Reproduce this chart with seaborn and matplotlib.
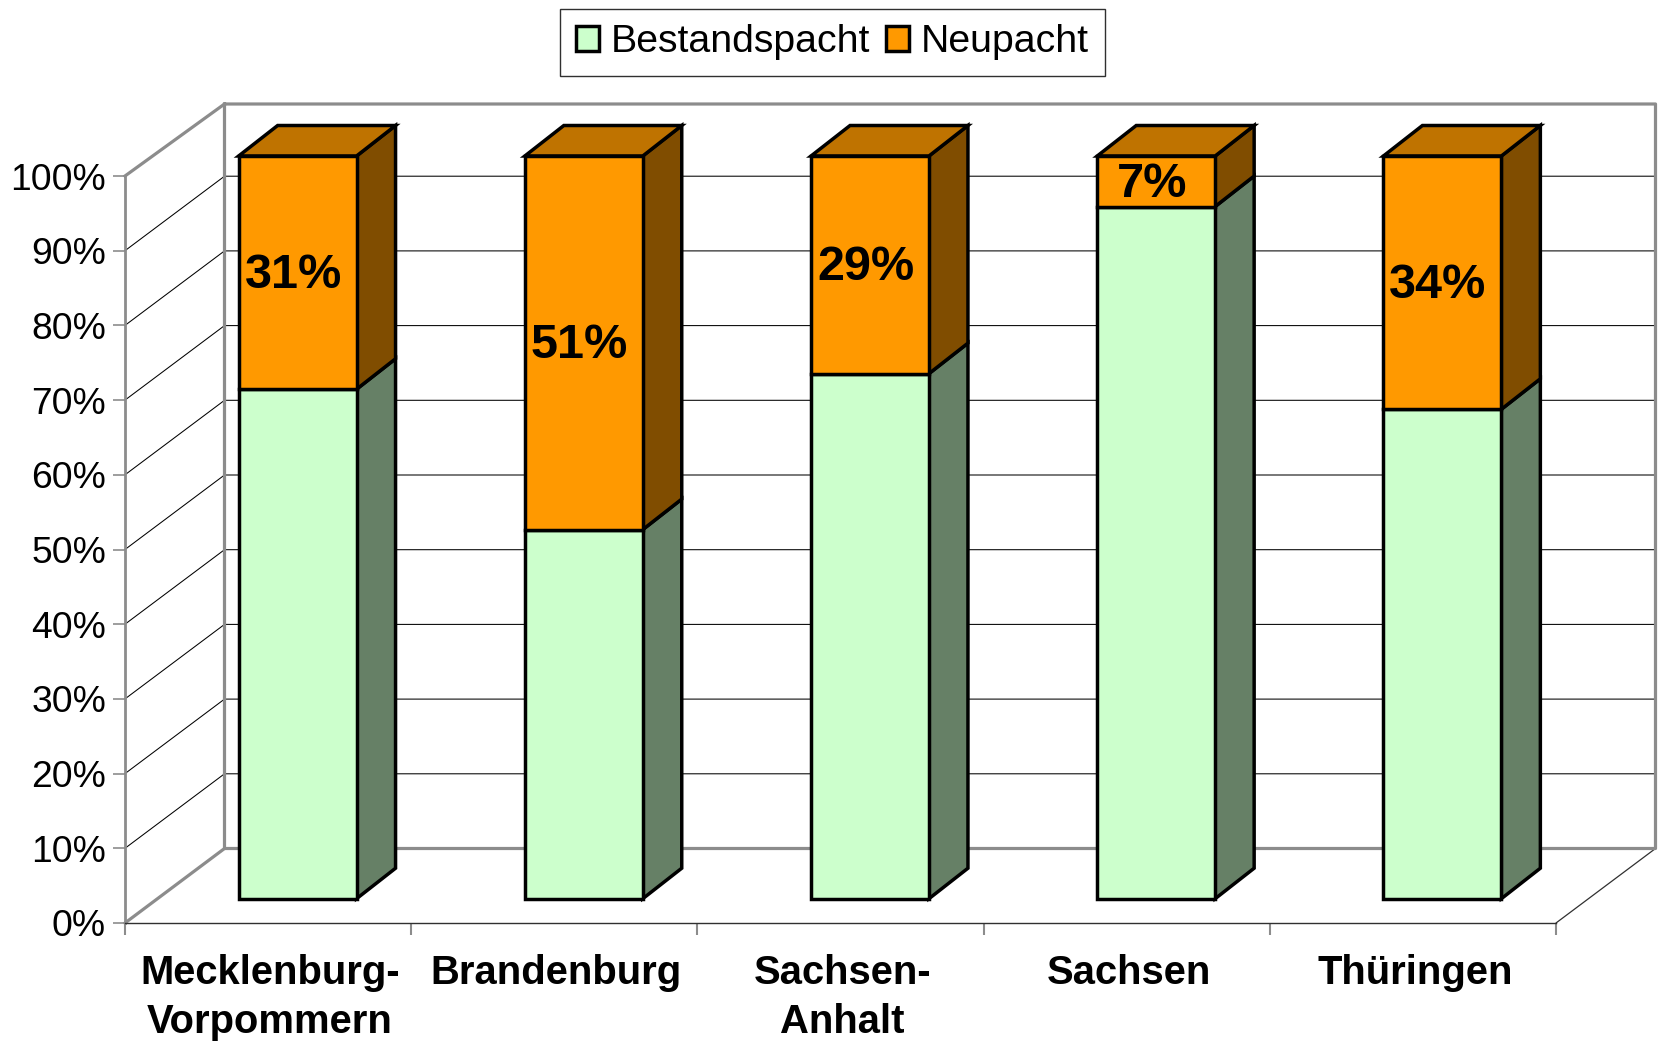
import matplotlib
matplotlib.use("Agg")
import matplotlib.pyplot as plt
from matplotlib.patches import Polygon
from matplotlib.transforms import ScaledTranslation
import seaborn as sns

states = ["Mecklenburg-\nVorpommern", "Brandenburg", "Sachsen-\nAnhalt", "Sachsen", "Thüringen"]
bestandspacht = [68.6, 49.7, 70.7, 93.2, 65.9]
neupacht = [31.4, 50.3, 29.3, 6.8, 34.1]
neupacht_labels = ["31%", "51%", "29%", "7%", "34%"]
y_ticks = [0, 10, 20, 30, 40, 50, 60, 70, 80, 90, 100]

GREEN, ORANGE = "#CCFFCC", "#FF9900"
GREEN_SIDE, ORANGE_SIDE, ORANGE_TOP = "#668066", "#804D00", "#BF7300"
GRAY = "#8C8C8C"

sns.set_theme(style="white")
plt.rcParams["font.family"] = ["Liberation Sans", "DejaVu Sans"]

W, H = 1659, 1042
fig = plt.figure(figsize=(W / 100, H / 100), dpi=100, facecolor="white")


def px_axes(x0, x1, ytop, ybot, **kw):
    return fig.add_axes([x0 / W, 1 - ybot / H, (x1 - x0) / W, (ybot - ytop) / H], **kw)


# front plane axes: frame, ticks, walls
ax = px_axes(125, 1556, 176, 923)
ax.set_xlim(-0.5, 4.5)
ax.set_ylim(0, 100)
ax.set_facecolor("none")
for s in ("top", "right"):
    ax.spines[s].set_visible(False)
ax.spines["left"].set_color(GRAY)
ax.spines["left"].set_linewidth(2)
ax.spines["bottom"].set_color("#303030")
ax.spines["bottom"].set_linewidth(1)

cat_px = (1556 - 125) / 5
pct_px = (923 - 176) / 100
wall_dx = 99.5 / cat_px
wall_dy = 74.5 / pct_px
wall_top = 100 + wall_dy - 2.5 / pct_px
x_l, x_r = -0.5, 4.5

wall = dict(color=GRAY, lw=2.3, clip_on=False, solid_capstyle="projecting", zorder=2)
thin = dict(color="black", lw=0.75, clip_on=False, zorder=1)
for t in y_ticks[1:-1]:
    ax.plot([x_l, x_l + wall_dx, x_r + wall_dx], [t, t + wall_dy, t + wall_dy], **thin)
ax.plot([x_l, x_l + wall_dx, x_r + wall_dx, x_r + wall_dx, x_l + wall_dx, x_l + wall_dx],
        [100, wall_top, wall_top, wall_dy, wall_dy, wall_top], **wall)
ax.plot([x_l, x_l + wall_dx], [0, wall_dy], **wall)
ax.plot([x_r, x_r + wall_dx], [0, wall_dy], color="#303030", lw=0.9, clip_on=False, zorder=1)

ax.set_yticks(y_ticks)
ax.set_yticklabels([f"{t}%" for t in y_ticks])
ax.tick_params(axis="y", length=8.6, width=1.2, color=GRAY, pad=5, labelsize=26.8, labelcolor="black", left=True)
ax.set_xticks(range(len(states)))
ax.set_xticklabels(states, fontweight="bold", fontsize=28.8, linespacing=1.36)
ax.set_xticks([x_l + i for i in range(len(states) + 1)], minor=True)
ax.tick_params(axis="x", which="major", length=0, pad=22.5, labelcolor="black")
ax.tick_params(axis="x", which="minor", length=8.6, width=1.5, color=GRAY, bottom=True)
shift = ScaledTranslation(2 / 100, 0, fig.dpi_scale_trans)
for lab in ax.get_xticklabels():
    lab.set_transform(lab.get_transform() + shift)

# bar plane axes: floats between front plane and back wall
bx = px_axes(154.5, 1585.5, 156, 898.7, sharex=None)
bx.patch.set_alpha(0)
sns.barplot(x=states, y=bestandspacht, color=GREEN, saturation=1, width=0.412,
            edgecolor="black", linewidth=2.5, ax=bx, order=states)
sns.barplot(x=states, y=neupacht, bottom=bestandspacht, color=ORANGE, saturation=1, width=0.412,
            edgecolor="black", linewidth=2.5, ax=bx, order=states)
bx.set_xlim(-0.5, 4.5)
bx.set_ylim(0, 100)
bx.axis("off")

bar_dx = 39 / cat_px
bar_dy = 30.5 / (742.7 / 100)
edge = dict(edgecolor="black", linewidth=2.5, clip_on=False, joinstyle="miter", zorder=1)
cont_b, cont_n = bx.containers[0], bx.containers[1]
for cont, side in ((cont_b, GREEN_SIDE), (cont_n, ORANGE_SIDE)):
    for p in cont:
        p.set_clip_on(False)
        p.set_zorder(3)
        p.set_joinstyle("miter")
        r, y0, y1 = p.get_x() + p.get_width(), p.get_y(), p.get_y() + p.get_height()
        bx.add_patch(Polygon([(r, y0), (r + bar_dx, y0 + bar_dy), (r + bar_dx, y1 + bar_dy), (r, y1)],
                             facecolor=side, **edge))
for p, lab in zip(cont_n, neupacht_labels):
    l, r, y1 = p.get_x(), p.get_x() + p.get_width(), p.get_y() + p.get_height()
    bx.add_patch(Polygon([(l, y1), (l + bar_dx, y1 + bar_dy), (r + bar_dx, y1 + bar_dy), (r, y1)],
                         facecolor=ORANGE_TOP, **edge))
    bx.annotate(lab, (p.get_x() + p.get_width() / 2, p.get_y() + p.get_height() / 2),
                xytext=(-3.2, -2.3), textcoords="offset points", ha="center", va="center",
                fontsize=35, fontweight="bold", color="black", zorder=5, annotation_clip=False)

leg = fig.legend([cont_b[0], cont_n[0]], ["Bestandspacht", "Neupacht"], loc="center",
                 bbox_to_anchor=(832.5 / W, 1 - 42.5 / H), ncol=2, fontsize=28.3, frameon=True,
                 fancybox=False, edgecolor="#303030", framealpha=1, handlelength=0.58, handleheight=0.58,
                 handletextpad=0.3, columnspacing=0.42, borderpad=0.4, borderaxespad=0, labelcolor="black")
leg.get_frame().set_linewidth(1)

fig.savefig("out.png", dpi=100, facecolor="white")
